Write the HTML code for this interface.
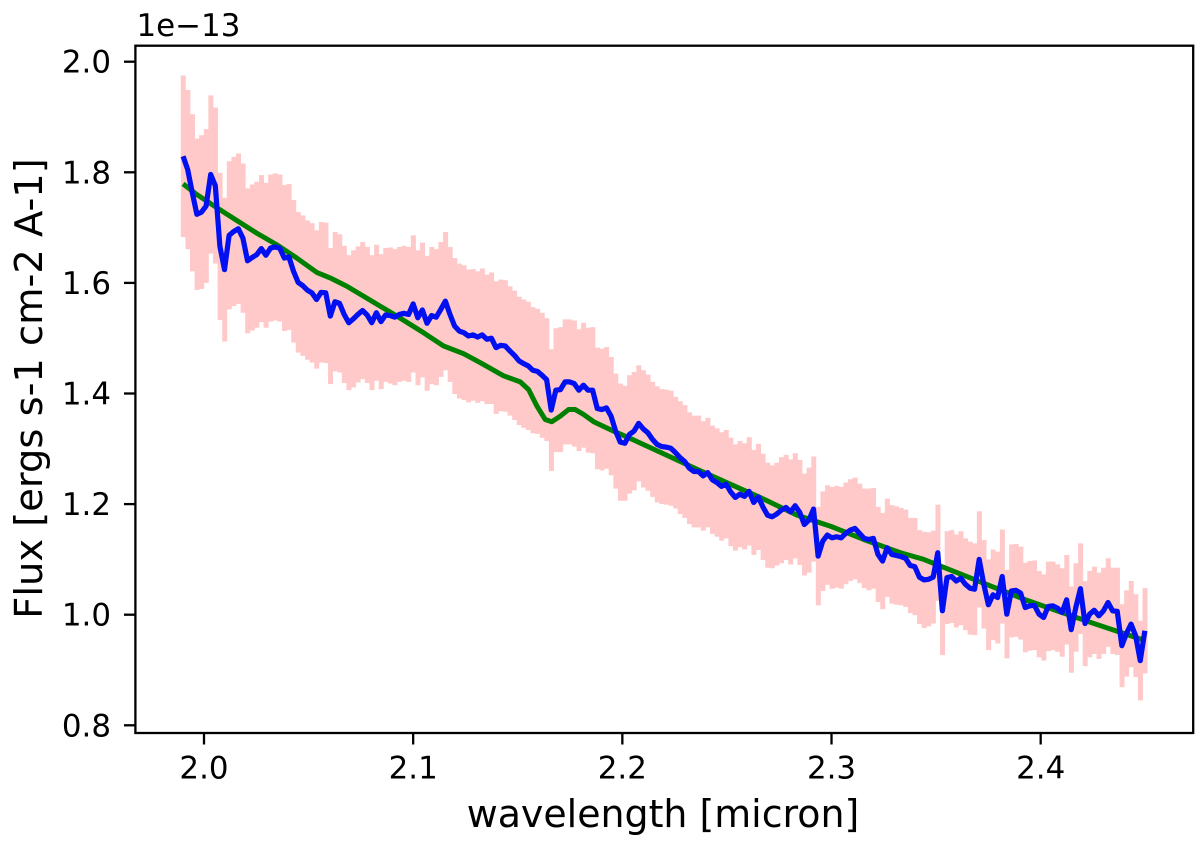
<!DOCTYPE html>
<html>
<head>
<meta charset="utf-8">
<title>Flux vs wavelength</title>
<style>
html,body{margin:0;padding:0;background:#fff;width:1200px;height:844px;overflow:hidden}
svg{display:block}
text{font-family:"DejaVu Sans","Liberation Sans",sans-serif;fill:#000}
</style>
</head>
<body>
<svg id="chart" xmlns="http://www.w3.org/2000/svg" width="1200" height="844" viewBox="0 0 1200 844">
  <g id="bars"></g>
  <polyline id="model" fill="none" stroke="#008000" stroke-width="5" stroke-linejoin="round"></polyline>
  <polyline id="flux" fill="none" stroke="#0010f0" stroke-width="5.2" stroke-linejoin="round"></polyline>
  <rect x="135.4" y="45.7" width="1057.8" height="687.3" fill="none" stroke="#000" stroke-width="2.3"></rect>
  <g id="xticks"></g>
  <g id="yticks"></g>
  <text x="136.5" y="36" font-size="30.9">1e−13</text>
  <text x="663" y="827" font-size="37.9" text-anchor="middle">wavelength [micron]</text>
  <text transform="translate(42,388.5) rotate(-90)" font-size="38.4" text-anchor="middle">Flux [ergs s-1 cm-2 A-1]</text>
</svg>
<script>
const waveStart = 1.99;
const waveStep = 0.0022;
const fluxValues = [
1.829,1.805,1.763,1.724,1.728,1.739,1.796,1.776,1.666,1.624,
1.686,1.693,1.698,1.681,1.640,1.646,1.651,1.662,1.650,1.663,
1.665,1.663,1.645,1.647,1.621,1.601,1.595,1.587,1.582,1.570,
1.583,1.582,1.540,1.566,1.563,1.543,1.528,1.535,1.543,1.550,
1.542,1.528,1.546,1.530,1.542,1.541,1.538,1.543,1.545,1.543,
1.562,1.537,1.551,1.527,1.541,1.538,1.552,1.567,1.543,1.522,
1.513,1.510,1.504,1.506,1.502,1.506,1.498,1.500,1.483,1.487,
1.486,1.477,1.469,1.459,1.454,1.450,1.442,1.440,1.433,1.425,
1.370,1.406,1.407,1.421,1.421,1.418,1.406,1.415,1.406,1.406,
1.373,1.371,1.374,1.359,1.332,1.312,1.310,1.326,1.332,1.346,
1.336,1.329,1.317,1.308,1.304,1.303,1.301,1.293,1.284,1.277,
1.265,1.259,1.259,1.251,1.257,1.244,1.239,1.232,1.236,1.222,
1.212,1.218,1.214,1.223,1.203,1.213,1.195,1.180,1.177,1.182,
1.189,1.194,1.186,1.197,1.185,1.163,1.171,1.191,1.106,1.133,
1.144,1.139,1.141,1.139,1.147,1.153,1.156,1.147,1.138,1.136,
1.138,1.109,1.097,1.121,1.109,1.107,1.105,1.102,1.089,1.087,
1.068,1.063,1.064,1.068,1.112,1.007,1.067,1.069,1.061,1.066,
1.055,1.048,1.046,1.100,1.055,1.018,1.036,1.031,1.069,1.001,
1.043,1.044,1.039,1.013,1.016,1.017,1.001,0.995,1.015,1.016,
1.012,1.004,1.027,0.973,1.013,1.047,0.984,1.001,1.008,0.998,
1.007,1.022,1.007,1.006,0.944,0.966,0.983,0.962,0.917,0.971
];
const fluxErrors = [
.146,.144,.142,.137,.139,.139,.143,.141,.133,.130,
.134,.135,.136,.135,.131,.132,.132,.133,.131,.133,
.133,.133,.132,.132,.129,.127,.127,.126,.126,.125,
.127,.127,.123,.126,.125,.124,.122,.124,.123,.124,
.123,.122,.123,.122,.121,.123,.123,.122,.122,.122,
.124,.122,.122,.122,.124,.123,.122,.125,.122,.123,
.122,.122,.120,.119,.119,.120,.117,.119,.120,.119,
.119,.117,.117,.116,.116,.116,.114,.113,.113,.111,
.110,.112,.113,.113,.113,.114,.110,.113,.113,.114,
.110,.110,.110,.107,.104,.106,.104,.107,.107,.105,
.106,.105,.104,.105,.104,.104,.104,.101,.102,.102,
.101,.101,.101,.099,.099,.098,.098,.098,.098,.098,
.096,.096,.096,.098,.095,.096,.096,.095,.093,.093,
.096,.095,.095,.095,.095,.092,.095,.095,.089,.090,
.090,.092,.092,.092,.092,.092,.092,.090,.090,.092,
.091,.086,.087,.089,.089,.089,.088,.088,.086,.088,
.085,.087,.085,.084,.087,.080,.084,.084,.084,.085,
.083,.084,.083,.087,.080,.082,.082,.083,.085,.080,
.084,.084,.084,.081,.081,.081,.078,.078,.081,.080,
.079,.080,.081,.078,.080,.082,.077,.078,.079,.078,
.078,.080,.078,.079,.075,.078,.078,.075,.072,.077
];
const modelWave = [1.99,1.9965,2.0061,2.0156,2.0252,2.0348,2.0443,2.0539,2.0603,2.0683,2.0762,2.0842,2.0922,2.1049,2.1145,2.1241,2.1320,2.1432,2.1512,2.1552,2.1592,2.1631,2.1663,2.1703,2.1743,2.1775,2.1815,2.1863,2.1958,2.2054,2.2197,2.2357,2.2516,2.2676,2.2835,2.2995,2.3154,2.3330,2.3441,2.3601,2.3760,2.3920,2.4079,2.4239,2.4398,2.45];
const modelFlux = [1.779,1.760,1.736,1.713,1.690,1.669,1.645,1.619,1.609,1.594,1.576,1.558,1.540,1.510,1.486,1.472,1.456,1.432,1.421,1.407,1.377,1.353,1.349,1.359,1.371,1.371,1.362,1.349,1.332,1.316,1.291,1.263,1.236,1.209,1.180,1.160,1.136,1.112,1.100,1.076,1.052,1.028,1.007,0.986,0.966,0.953];
const xTickValues = [2.0,2.1,2.2,2.3,2.4];
const yTickValues = [0.8,1.0,1.2,1.4,1.6,1.8,2.0];

const SVGNS = 'http://www.w3.org/2000/svg';
function xScale(w){ return 204 + (w - 2.0) * 2091.7; }
function yScale(v){ return 61.7 + (2.0 - v) * 553; }
function waveAt(i){ return waveStart + i * waveStep; }

const barsGroup = document.getElementById('bars');
const barWidth = waveStep * 2091.7;
fluxValues.forEach(function(v, i){
  const e = fluxErrors[i];
  const r = document.createElementNS(SVGNS, 'rect');
  
  
  r.setAttribute('x', (xScale(waveAt(i)) - barWidth / 2).toFixed(2));
  r.setAttribute('width', (barWidth + 0.4).toFixed(2));
  r.setAttribute('y', yScale(v + e).toFixed(2));
  r.setAttribute('height', (yScale(v - e) - yScale(v + e)).toFixed(2));
  r.setAttribute('fill', '#ffc9c9');
  barsGroup.appendChild(r);
});

document.getElementById('flux').setAttribute('points',
  fluxValues.map(function(v, i){ return xScale(waveAt(i)).toFixed(2) + ',' + yScale(v).toFixed(2); }).join(' '));
document.getElementById('model').setAttribute('points',
  modelFlux.map(function(v, i){ return xScale(modelWave[i]).toFixed(2) + ',' + yScale(v).toFixed(2); }).join(' '));

const xticks = document.getElementById('xticks');
xTickValues.forEach(function(t){
  const x = xScale(t);
  const l = document.createElementNS(SVGNS, 'line');
  
  
  l.setAttribute('x1', x); l.setAttribute('x2', x);
  l.setAttribute('y1', 733); l.setAttribute('y2', 744.5);
  l.setAttribute('stroke', '#000'); l.setAttribute('stroke-width', '2.3');
  xticks.appendChild(l);
  const s = document.createElementNS(SVGNS, 'text');
  
  
  s.setAttribute('x', x); s.setAttribute('y', 778.7);
  s.setAttribute('font-size', '30.9');
  s.setAttribute('text-anchor', 'middle');
  s.textContent = t.toFixed(1);
  xticks.appendChild(s);
});

const yticks = document.getElementById('yticks');
yTickValues.forEach(function(t){
  const y = yScale(t);
  const l = document.createElementNS(SVGNS, 'line');
  
  
  l.setAttribute('x1', 124); l.setAttribute('x2', 135.4);
  l.setAttribute('y1', y); l.setAttribute('y2', y);
  l.setAttribute('stroke', '#000'); l.setAttribute('stroke-width', '2.3');
  yticks.appendChild(l);
  const s = document.createElementNS(SVGNS, 'text');
  
  
  s.setAttribute('x', 111); s.setAttribute('y', y + 11);
  s.setAttribute('font-size', '30.9');
  s.setAttribute('text-anchor', 'end');
  s.textContent = t.toFixed(1);
  yticks.appendChild(s);
});
</script>
</body>
</html>
